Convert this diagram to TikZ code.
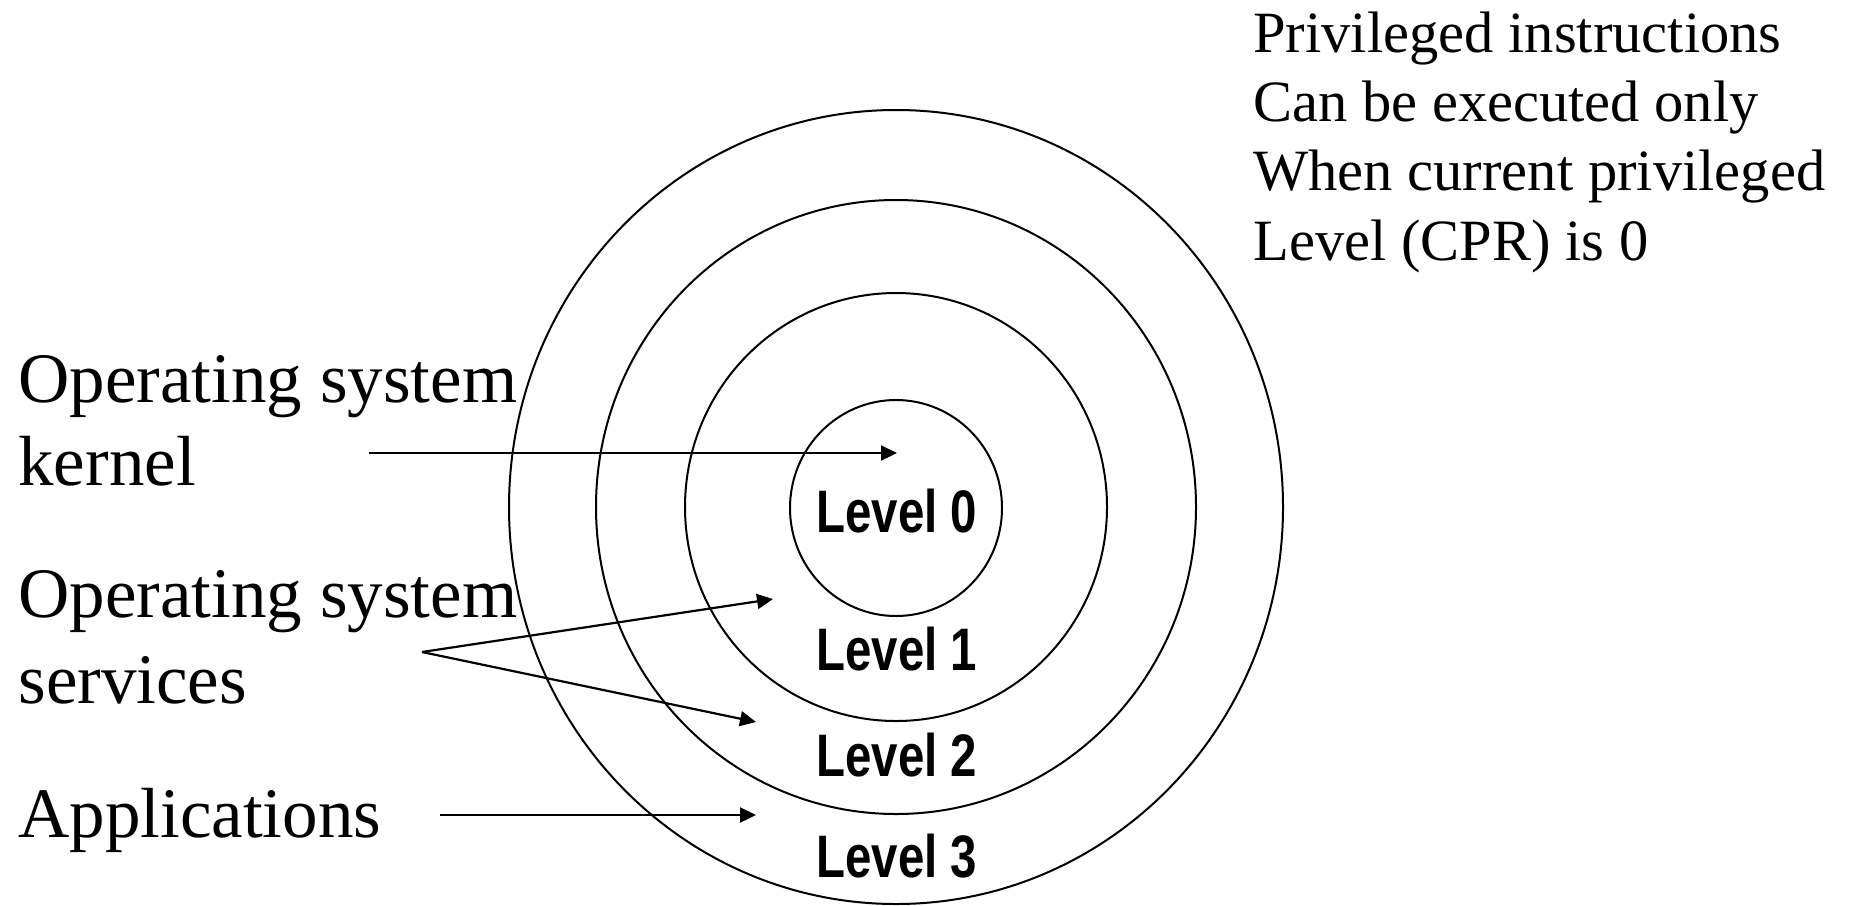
\documentclass[tikz,border=0pt]{standalone}
\usepackage{fontspec}
\setmainfont{Liberation Serif}
\newfontfamily\levelfont{Liberation Sans}
\usetikzlibrary{arrows.meta}
\tikzset{
  ring/.style={draw=black, line width=1pt},
  lvl/.style={anchor=base, inner sep=0pt, font=\levelfont\bfseries\fontsize{30}{30}\selectfont},
  bigtxt/.style={anchor=base west, inner sep=0pt, font=\fontsize{35.5}{41.5}\selectfont},
  notetxt/.style={anchor=base west, inner sep=0pt, font=\fontsize{29.25}{34.5}\selectfont},
  pointer/.style={draw=black, line width=1.1pt, -{Triangle[length=8pt,width=7.5pt]}}
}
\begin{document}
\begin{tikzpicture}[x=0.5pt,y=-0.5pt]
\useasboundingbox (0,0) rectangle (1850,905);
% rings
\draw[ring] (896,507) ellipse [x radius=387, y radius=397];
\draw[ring] (896,507) ellipse [x radius=300, y radius=307];
\draw[ring] (896,507) ellipse [x radius=211, y radius=214];
\draw[ring] (896,508) ellipse [x radius=106, y radius=108];
% level labels
\node[lvl] (l0) at (897,532) {\scalebox{0.79}[1]{Level 0}};
\node[lvl] (l1) at (897,670) {\scalebox{0.79}[1]{Level 1}};
\node[lvl] (l2) at (897,776) {\scalebox{0.79}[1]{Level 2}};
\node[lvl] (l3) at (897,877) {\scalebox{0.79}[1]{Level 3}};
% left labels
\node[bigtxt] (osk1) at (18,402) {Operating system};
\node[bigtxt] (osk2) at (18,485) {kernel};
\node[bigtxt] (oss1) at (18,617) {Operating system};
\node[bigtxt] (oss2) at (18,703) {services};
\node[bigtxt] (app) at (18,837) {Applications};
% note
\node[notetxt] (n1) at (1253,52) {Privileged instructions};
\node[notetxt] (n2) at (1253,121) {Can be executed only};
\node[notetxt] (n3) at (1253,190.5) {When current privileged};
\node[notetxt] (n4) at (1253,260) {Level (CPR) is 0};
% arrow coordinates
\coordinate (ks) at (369,453);
\coordinate (ke) at (897,453);
\coordinate (ss) at (422,652);
\coordinate (se1) at (773,599);
\coordinate (se2) at (756,722);
\coordinate (as) at (440,815);
\coordinate (ae) at (756,815);
\draw[pointer] (ks) -- (ke);
\draw[pointer] (ss) -- (se1);
\draw[pointer] (ss) -- (se2);
\draw[pointer] (as) -- (ae);
\end{tikzpicture}
\end{document}
